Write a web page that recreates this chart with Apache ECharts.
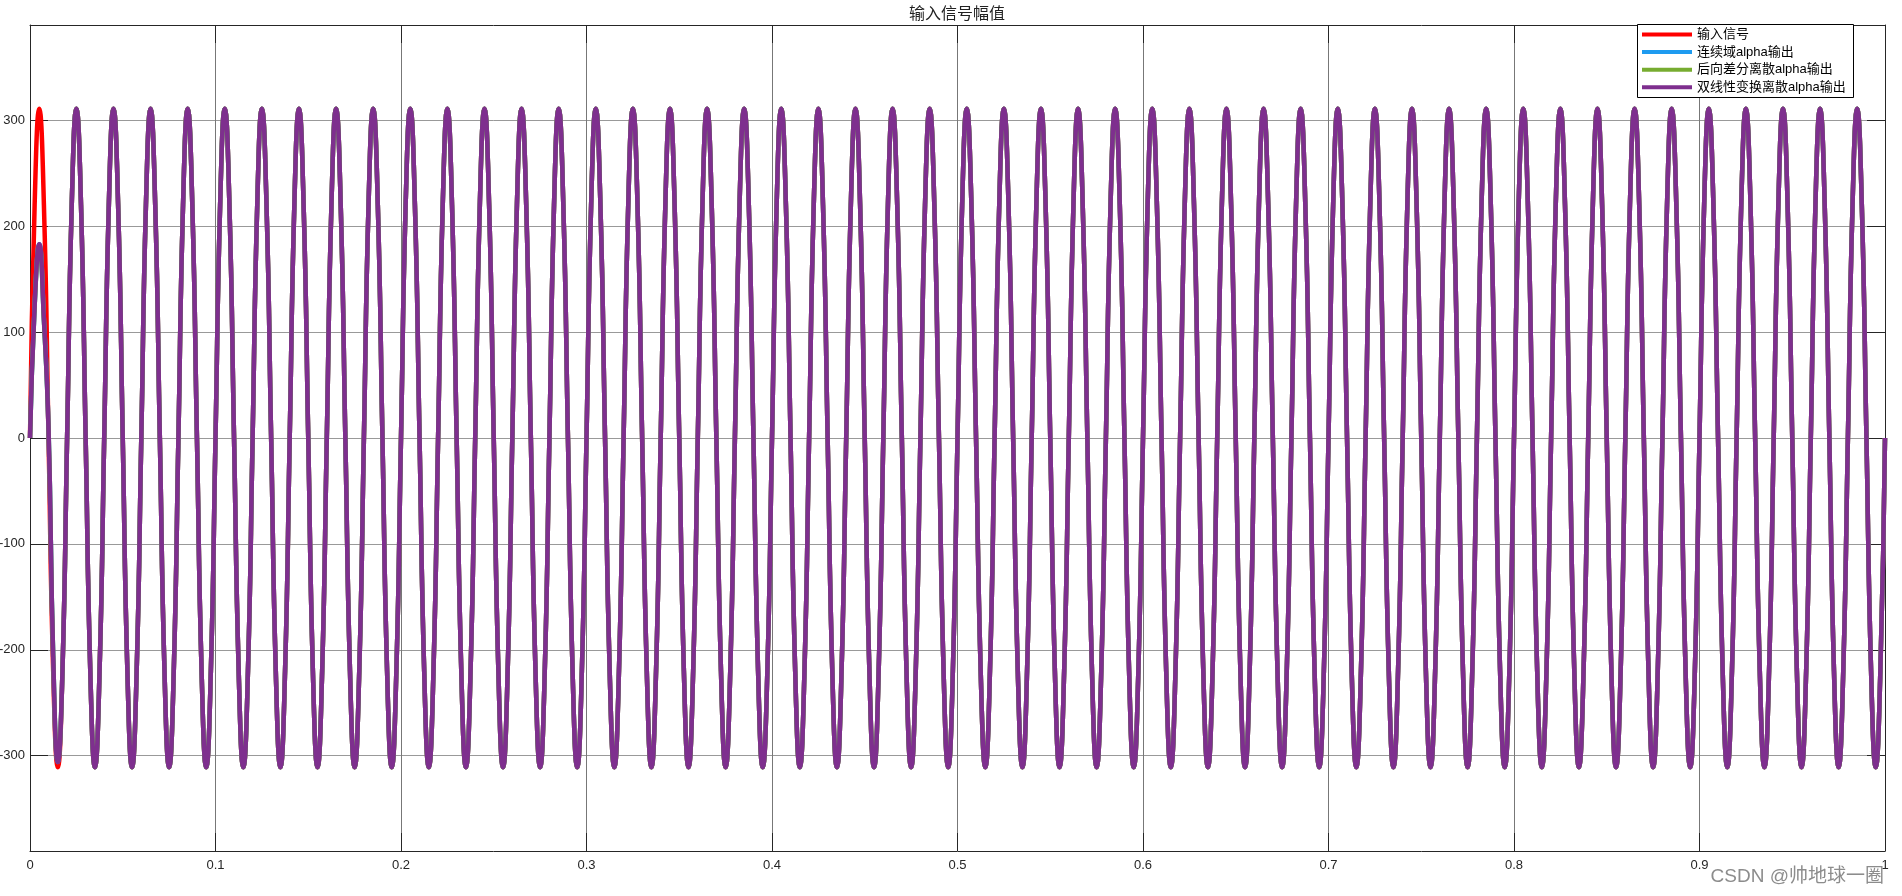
<!DOCTYPE html>
<html>
<head>
<meta charset="utf-8">
<script src="https://cdn.jsdelivr.net/npm/echarts@6/dist/echarts.min.js"></script>
<style>html,body{margin:0;padding:0;background:#fff}#c{width:1902px;height:896px}</style>
</head>
<body>
<div id="c"></div>
<script>
// ---- data ----
const chartTitle = '输入信号幅值';
const seriesNames = ['输入信号', '连续域alpha输出', '后向差分离散alpha输出', '双线性变换离散alpha输出'];
const seriesColors = ['#FF0000', '#1E9BF0', '#77AC30', '#7E2F8E'];
const sampleStep = 0.0025;          // read points every 1/8 of the 20 ms period
const cycleCount = 50;
// values read at each 1/8 period in steady state
const steadyCycle = [0, 220, 311, 220, 0, -220, -311, -220];
// first period of each series (transient), read at the same points
const inputFirstCycle      = [0, 220, 311, 220, 0, -220, -311, -220];
const continuousFirstCycle = [0, 125, 183, 112, 8, -206, -306, -220];
const backwardFirstCycle   = [0, 124, 182, 111, 8, -206, -305, -220];
const bilinearFirstCycle   = [0, 125, 183, 112, 8, -206, -306, -220];
const endValue = 0;
const xTickLabels = ['0', '0.1', '0.2', '0.3', '0.4', '0.5', '0.6', '0.7', '0.8', '0.9', '1'];
const yTickValues = [-300, -200, -100, 0, 100, 200, 300];
const yTickLabels = ['-300', '-200', '-100', '0', '100', '200', '300'];
const watermark = 'CSDN @帅地球一圈';

// ---- build series from the read values ----
function buildSeries(firstCycle) {
  const vals = firstCycle.slice();
  for (let c = 1; c < cycleCount; c++) vals.push(...steadyCycle);
  vals.push(endValue);
  return vals.map((v, i) => [+(i * sampleStep).toFixed(4), v]);
}
const firstCycles = [inputFirstCycle, continuousFirstCycle, backwardFirstCycle, bilinearFirstCycle];

const axisColor = '#262626';
const font = "'Liberation Sans', 'Noto Sans CJK SC', sans-serif";

const chart = echarts.init(document.getElementById('c'), null, {renderer: 'canvas'});
chart.setOption({
  animation: false,
  backgroundColor: '#fff',
  grid: {left: 30, right: 17, top: 25, bottom: 45, containLabel: false, outerBoundsMode: 'none'},
  legend: {
    data: seriesNames,
    orient: 'vertical',
    left: 1637, top: 24,
    padding: [4, 5, 4, 5],
    itemWidth: 50, itemHeight: 13, itemGap: 4.6,
    icon: 'path://M0,0 L50,0 L50,4 L0,4 Z',
    symbolKeepAspect: true,
    backgroundColor: 'transparent',
    borderWidth: 0,
    textStyle: {fontSize: 13, color: '#000', fontFamily: font, lineHeight: 13, padding: [0,0,0,0]},
    z: 20
  },
  xAxis: [{
    type: 'value', min: 0, max: 1, interval: 0.1,
    axisLine: {show: true, onZero: false, lineStyle: {color: axisColor, width: 1}},
    axisTick: {show: true, inside: true, length: 18, lineStyle: {color: axisColor}},
    axisLabel: {margin: 8, fontSize: 13, color: axisColor, fontFamily: font,
      formatter: v => xTickLabels[Math.round(v * 10)]},
    splitLine: {show: true, lineStyle: {color: '#777', width: 1}}
  }, {
    type: 'value', position: 'top', min: 0, max: 1, interval: 0.1,
    axisLine: {show: true, onZero: false, lineStyle: {color: axisColor, width: 1}},
    axisTick: {show: true, inside: true, length: 18, lineStyle: {color: axisColor}},
    axisLabel: {show: false}, splitLine: {show: false}
  }],
  yAxis: [{
    type: 'value', min: -390, max: 390,
    axisLine: {show: true, onZero: false, lineStyle: {color: axisColor, width: 1}},
    axisTick: {show: true, inside: true, length: 18, lineStyle: {color: axisColor}, customValues: yTickValues},
    axisLabel: {margin: 5, fontSize: 13, color: axisColor, fontFamily: font, customValues: yTickValues,
      formatter: v => yTickLabels[yTickValues.indexOf(Math.round(v))]},
    splitLine: {show: true, lineStyle: {color: '#999', width: 1}}
  }, {
    type: 'value', position: 'right', min: -390, max: 390,
    axisLine: {show: true, onZero: false, lineStyle: {color: axisColor, width: 1}},
    axisTick: {show: true, inside: true, length: 18, lineStyle: {color: axisColor}, customValues: yTickValues},
    axisLabel: {show: false, customValues: yTickValues}, splitLine: {show: false}
  }],
  series: seriesNames.map((name, i) => ({
    name, type: 'line', data: buildSeries(firstCycles[i]),
    xAxisIndex: 0, yAxisIndex: 0,
    smooth: true, symbol: 'none', showSymbol: false,
    lineStyle: {color: seriesColors[i], width: 4.5},
    itemStyle: {color: seriesColors[i]},
    z: 2 + i
  })),
  graphic: [
    {type: 'text', x: 957, y: 13, z: 30,
      style: {text: chartTitle, fontSize: 16, fontFamily: "'Noto Sans CJK SC', sans-serif", fill: '#222',
        textAlign: 'center', textVerticalAlign: 'middle'}},
    {type: 'rect', z: 15, shape: {x: 1637.5, y: 24.5, width: 216, height: 73},
      style: {fill: '#fff', stroke: '#000', lineWidth: 1}},
    {type: 'text', x: 1884, y: 877, z: 30,
      style: {text: watermark, fontSize: 19, fontFamily: font, fill: '#8c8c8c',
        textAlign: 'right', textVerticalAlign: 'middle'}}
  ]
});
</script>
</body>
</html>
